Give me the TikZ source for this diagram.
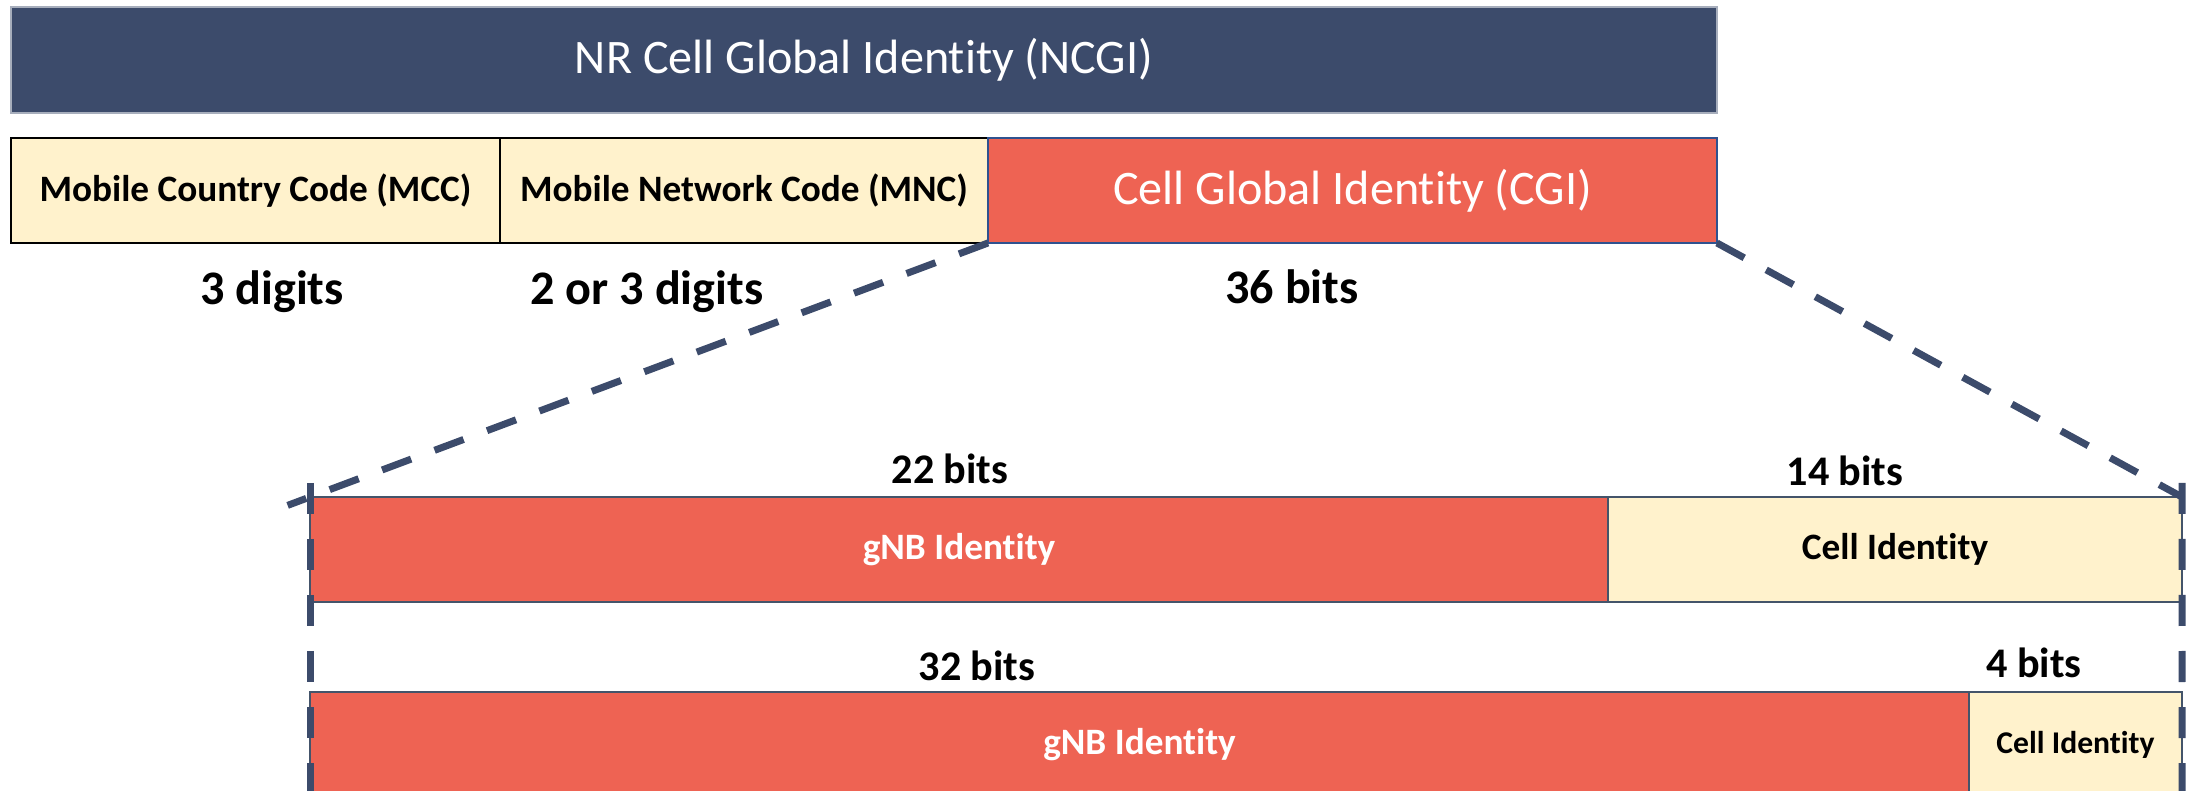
\documentclass[tikz,border=0pt]{standalone}
\usepackage{fontspec}
\setmainfont{Carlito}[Ligatures=NoCommon]
\usetikzlibrary{calc}
\usetikzlibrary{positioning}
\definecolor{ncginavy}{RGB}{60,75,107}
\definecolor{ncgicream}{RGB}{255,242,204}
\definecolor{ncgicoral}{RGB}{238,99,83}
\definecolor{ncgiedge}{RGB}{68,84,106}
\definecolor{ncgiblue}{RGB}{47,82,143}
\tikzset{
    field/.style={
        rectangle,          % 矩形字段
        anchor=north west,  % 以左上角定位
        inner sep=0,        % 不留内边距
        outer sep=0,
        minimum height=10.5mm,
        line width=0.2mm
    },
    yellowfield/.style={field, fill=ncgicream, draw=ncgiedge, text=black,
        font=\bfseries\fontsize{10.6}{12}\selectfont},
    redfield/.style={field, fill=ncgicoral, draw=ncgiedge, text=white,
        font=\bfseries\fontsize{10.6}{12}\selectfont},
    bitlen/.style={anchor=base, inner sep=0,
        font=\bfseries\fontsize{12}{14}\selectfont},
    zoomline/.style={ncginavy, line width=0.7mm, dash pattern=on 3.1mm off 2.5mm}
}

\begin{document}
\begin{tikzpicture}[x=0.1mm, y=-0.1mm]
\useasboundingbox (0,0) rectangle (2190,791);

% 定义点
\coordinate (P1) at (11,7);
\coordinate (P2) at (11,138);
\coordinate (P3) at (310,497);
\coordinate (P4) at (310,692);
\coordinate (lbot) at (310,800);
\coordinate (rbot) at (2182,800);

% 上面两行
\node[field, minimum width=170.6mm, minimum height=10.6mm, fill=ncginavy,
      draw=ncginavy!45, line width=0.15mm, text=white,
      font=\fontsize{13.7}{16}\selectfont] (ncgi) at (P1) {NR Cell Global Identity (NCGI)};
\node[yellowfield, minimum width=48.9mm, draw=black, line width=0.25mm] (mcc) at (P2) {Mobile Country Code (MCC)};
\node[yellowfield, minimum width=48.8mm, draw=black, line width=0.25mm, right=0pt of mcc] (mnc) {Mobile Network Code (MNC)};
\node[redfield, minimum width=72.9mm, draw=ncgiblue, anchor=west,
      font=\fontsize{13.7}{16}\selectfont, right=0pt of mnc] (cgi) {Cell Global Identity (CGI)};

\node[bitlen, font=\bfseries\fontsize{13.7}{16}\selectfont] (mcclen) at (272,305) {3 digits};
\node[bitlen, font=\bfseries\fontsize{13.7}{16}\selectfont] (mnclen) at (647,305) {2 or 3 digits};
\node[bitlen, font=\bfseries\fontsize{13.7}{16}\selectfont] (cgilen) at (1292,304) {36 bits};

% 下面两种划分
\node[redfield, minimum width=129.8mm] (gnbA) at (P3) {gNB Identity};
\node[yellowfield, minimum width=57.4mm, right=0pt of gnbA] (cellA) {Cell Identity};
\node[bitlen] (gnbAlen) at (950,483) {22 bits};
\node[bitlen] (cellAlen) at (1845,485) {14 bits};

\node[redfield, minimum width=165.9mm] (gnbB) at (P4) {gNB Identity};
\node[yellowfield, minimum width=21.3mm, font=\bfseries\fontsize{9}{11}\selectfont,
      right=0pt of gnbB] (cellB) {Cell Identity};
\node[bitlen] (gnbBlen) at (977,680) {32 bits};
\node[bitlen] (cellBlen) at (2034,677) {4 bits};

% 虚线
\draw[zoomline] (cgi.south west) -- ($(cgi.south west)!1.033!(gnbA.north west)$);
\draw[zoomline] (cgi.south east) -- (cellA.north east);
\draw[zoomline] ($(gnbA.north west)+(0,-14)$) -- (lbot);
\draw[zoomline] ($(cellA.north east)+(0,-14)$) -- (rbot);

\end{tikzpicture}
\end{document}
